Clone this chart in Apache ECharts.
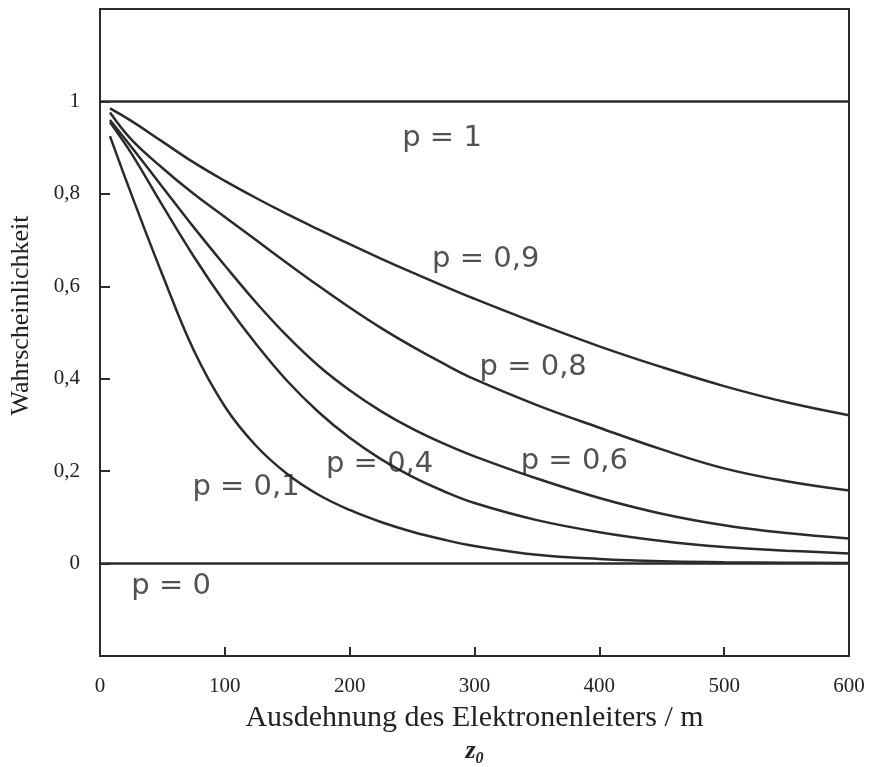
<!DOCTYPE html>
<html>
<head>
<meta charset="utf-8">
<script src="https://cdn.jsdelivr.net/npm/echarts@6/dist/echarts.min.js"></script>
<style>
  html, body { margin: 0; padding: 0; background: #fff; }
  #chart { width: 870px; height: 767px; }
</style>
</head>
<body>
<div id="chart"></div>
<script>
// z0 positions along the conductor (m)
var zValues = [8, 25, 50, 75, 100, 125, 150, 175, 200, 225, 250, 275, 300, 350, 400, 450, 500, 550, 600];

// probability curves, one per p
var p09 = [0.985, 0.958, 0.913, 0.868, 0.828, 0.791, 0.756, 0.723, 0.691, 0.660, 0.630, 0.601, 0.573, 0.520, 0.470, 0.425, 0.384, 0.349, 0.321];
var p08 = [0.976, 0.918, 0.856, 0.800, 0.750, 0.700, 0.650, 0.601, 0.554, 0.510, 0.470, 0.433, 0.399, 0.343, 0.294, 0.247, 0.206, 0.178, 0.158];
var p06 = [0.960, 0.902, 0.815, 0.728, 0.645, 0.565, 0.492, 0.428, 0.375, 0.330, 0.292, 0.260, 0.232, 0.184, 0.142, 0.108, 0.083, 0.066, 0.054];
var p04 = [0.955, 0.888, 0.775, 0.665, 0.565, 0.475, 0.395, 0.328, 0.272, 0.226, 0.188, 0.157, 0.131, 0.094, 0.068, 0.049, 0.036, 0.028, 0.022];
var p01 = [0.925, 0.800, 0.625, 0.462, 0.340, 0.255, 0.194, 0.149, 0.116, 0.090, 0.069, 0.052, 0.038, 0.019, 0.010, 0.005, 0.003, 0.002, 0.001];

// limiting cases p = 1 and p = 0
var flatZ = [0, 600];
var pOne = [1, 1];
var pZero = [0, 0];

// curve labels
var labelTexts = ['p = 1', 'p = 0,9', 'p = 0,8', 'p = 0,6', 'p = 0,4', 'p = 0,1', 'p = 0'];
var labelZ = [274, 309, 347, 380, 224, 117, 57];
var labelP = [0.92, 0.659, 0.425, 0.221, 0.215, 0.165, -0.05];

var lineColor = '#2b2b2b';
var serif = '"Liberation Serif", "DejaVu Serif", serif';

function pairs(xs, ys) {
  return xs.map(function (x, i) { return [x, ys[i]]; });
}

function curve(ys) {
  return {
    type: 'line',
    data: pairs(zValues, ys),
    smooth: 0.4,
    showSymbol: false,
    silent: true,
    lineStyle: { color: lineColor, width: 2.5 },
    z: 3
  };
}

function flat(ys) {
  return {
    type: 'line',
    data: pairs(flatZ, ys),
    showSymbol: false,
    silent: true,
    lineStyle: { color: lineColor, width: 2.5 },
    z: 3
  };
}

var chart = echarts.init(document.getElementById('chart'), null, { renderer: 'canvas' });

chart.setOption({
  backgroundColor: '#ffffff',
  animation: false,
  grid: {
    left: 100, right: 21, top: 9, bottom: 111,
    containLabel: false,
    outerBoundsMode: 'none',
    show: true, borderColor: lineColor, borderWidth: 2, backgroundColor: 'transparent'
  },
  xAxis: {
    type: 'value',
    min: 0, max: 600, interval: 100,
    axisLine: { show: true, onZero: false, lineStyle: { color: lineColor, width: 2 } },
    axisTick: { show: true, inside: true, length: 9, lineStyle: { color: lineColor, width: 2 } },
    splitLine: { show: false },
    axisLabel: { color: '#222', fontFamily: serif, fontSize: 21, margin: 20 },
    name: 'Ausdehnung des Elektronenleiters / m\n{z|z}{s|0}',
    nameLocation: 'middle',
    nameGap: 46,
    nameTextStyle: {
      color: '#222', fontFamily: serif, fontSize: 30, lineHeight: 33, verticalAlign: 'top',
      rich: {
        z: { fontFamily: serif, fontStyle: 'italic', fontWeight: 'bold', fontSize: 26, lineHeight: 30, color: '#222' },
        s: { fontFamily: serif, fontStyle: 'italic', fontWeight: 'bold', fontSize: 16, padding: [14, 0, 0, 0], color: '#222' }
      }
    }
  },
  yAxis: {
    type: 'value',
    min: -0.2, max: 1.2, interval: 0.2,
    axisLine: { show: true, onZero: false, lineStyle: { color: lineColor, width: 2 } },
    axisTick: { show: true, inside: true, length: 10, lineStyle: { color: lineColor, width: 2 } },
    splitLine: { show: false },
    axisLabel: {
      color: '#222', fontFamily: serif, fontSize: 21, margin: 20,
      formatter: function (v) {
        if (v < -0.05 || v > 1.05) return '';
        if (Math.abs(v) < 1e-6) return '0';
        if (Math.abs(v - 1) < 1e-6) return '1';
        return v.toFixed(1).replace('.', ',');
      }
    },
    name: 'Wahrscheinlichkeit',
    nameLocation: 'middle',
    nameGap: 66,
    nameRotate: 90,
    nameTextStyle: { color: '#222', fontFamily: serif, fontSize: 26, padding: [0, 0, 0, 34] }
  },
  series: [
    flat(pOne),
    flat(pZero),
    curve(p09),
    curve(p08),
    curve(p06),
    curve(p04),
    curve(p01),
    {
      type: 'scatter',
      symbolSize: 0,
      silent: true,
      z: 5,
      data: labelTexts.map(function (t, i) { return { name: t, value: [labelZ[i], labelP[i]] }; }),
      label: {
        show: true,
        position: 'inside',
        formatter: function (params) { return params.name; },
        fontFamily: '"DejaVu Sans", sans-serif',
        fontSize: 29,
        color: '#262626'
      }
    }
  ]
});
</script>
</body>
</html>
